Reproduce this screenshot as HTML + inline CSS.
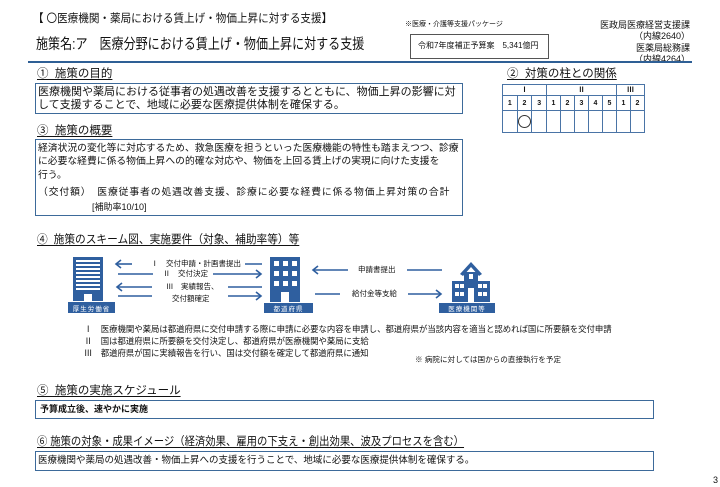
<!DOCTYPE html>
<html><head><meta charset="utf-8"><style>
body{margin:0;background:#fff;width:720px;height:487px;position:relative;overflow:hidden;font-family:"Liberation Sans","Noto Sans CJK JP",sans-serif;color:#111}
.a{position:absolute;white-space:nowrap;line-height:1;transform-origin:0 0}
.box{position:absolute;border:1px solid #3d6a9a;box-sizing:border-box}
.h{font-size:11.5px;text-decoration:underline;text-underline-offset:2px}
table{position:absolute;border-collapse:collapse;left:502px;top:84px}
td{border:1px solid #4a74a6;font-size:7px;text-align:center;padding:0;font-weight:bold}
</style></head><body>
<div class="a" style="left:33px;top:14px;font-size:11.5px;transform:scaleX(0.92)">【 〇医療機関・薬局における賃上げ・物価上昇に対する支援】</div>
<div class="a" style="left:36px;top:38px;font-size:14.5px;transform:scaleX(0.83)">施策名:ア　医療分野における賃上げ・物価上昇に対する支援</div>
<div class="a" style="left:405px;top:21px;font-size:7px">※医療・介護等支援パッケージ</div>
<div class="box" style="left:410px;top:34px;width:139px;height:25px;border-color:#555"></div>
<div class="a" style="left:418px;top:42px;font-size:8px">令和7年度補正予算案　5,341億円</div>
<div class="a" style="right:30px;left:auto;top:20px;font-size:9px;text-align:right;line-height:11.3px">医政局医療経営支援課<br>（内線2640）<br>医薬局総務課<br>（内線4264）</div>
<div style="position:absolute;left:28px;top:61px;width:664px;height:2px;background:#2e5f95"></div>

<div class="a h" style="left:37px;top:69px">①&nbsp; 施策の目的</div>
<div class="box" style="left:35px;top:83px;width:428px;height:31px"></div>
<div class="a" style="left:38px;top:86px;font-size:11px;line-height:13px">医療機関や薬局における従事者の処遇改善を支援するとともに、物価上昇の影響に対<br>して支援することで、地域に必要な医療提供体制を確保する。</div>

<div class="a h" style="left:507px;top:69px">②&nbsp; 対策の柱との関係</div>
<table>
<tr style="height:11px"><td colspan="3" style="width:43px">Ⅰ</td><td colspan="5">Ⅱ</td><td colspan="2">Ⅲ</td></tr>
<tr style="height:15px"><td style="width:13px">1</td><td style="width:13px">2</td><td style="width:13px">3</td><td style="width:13px">1</td><td style="width:13px">2</td><td style="width:13px">3</td><td style="width:13px">4</td><td style="width:13px">5</td><td style="width:13px">1</td><td style="width:13px">2</td></tr>
<tr style="height:22px"><td></td><td><div style="width:11px;height:11px;border:1px solid #333;border-radius:50%;margin:auto"></div></td><td></td><td></td><td></td><td></td><td></td><td></td><td></td><td></td></tr>
</table>

<div class="a h" style="left:37px;top:126px">③&nbsp; 施策の概要</div>
<div class="box" style="left:35px;top:139px;width:428px;height:77px"></div>
<div class="a" style="left:38px;top:142px;font-size:9.8px;line-height:13.3px">経済状況の変化等に対応するため、救急医療を担うといった医療機能の特性も踏まえつつ、診療<br>に必要な経費に係る物価上昇への的確な対応や、物価を上回る賃上げの実現に向けた支援を<br>行う。</div>
<div class="a" style="left:38px;top:188px;font-size:9.8px;letter-spacing:0.9px">（交付額）　医療従事者の処遇改善支援、診療に必要な経費に係る物価上昇対策の合計</div>
<div class="a" style="left:92px;top:203px;font-size:9px">[補助率10/10]</div>

<div class="a h" style="left:37px;top:235px;transform:scaleX(0.93)">④&nbsp; 施策のスキーム図、実施要件（対象、補助率等）等</div>

<svg style="position:absolute;left:0;top:0" width="720" height="487">
<g fill="#2f5f9f">
<rect x="73" y="257" width="30" height="44"/>
<rect x="68" y="302" width="47" height="11"/>
<rect x="270" y="257" width="30" height="45"/>
<rect x="264" y="303" width="49" height="10"/>
<rect x="439" y="303" width="56" height="10"/>
<polygon points="471,262 460,274 463,276 471,267 479,276 482,274"/>
<rect x="464" y="272" width="14" height="10"/>
<rect x="452" y="281" width="38" height="21"/>
</g>
<g fill="#fff">
<rect x="76" y="260" width="24" height="2"/><rect x="76" y="264" width="24" height="2"/><rect x="76" y="268" width="24" height="2"/><rect x="76" y="272" width="24" height="2"/><rect x="76" y="276" width="24" height="2"/><rect x="76" y="280" width="24" height="2"/><rect x="76" y="284" width="24" height="2"/><rect x="76" y="288" width="24" height="2"/>
<rect x="84" y="294" width="8" height="7"/>
<rect x="274" y="261" width="5" height="5"/><rect x="283" y="261" width="5" height="5"/><rect x="292" y="261" width="5" height="5"/>
<rect x="274" y="271" width="5" height="5"/><rect x="283" y="271" width="5" height="5"/><rect x="292" y="271" width="5" height="5"/>
<rect x="274" y="281" width="5" height="5"/><rect x="283" y="281" width="5" height="5"/><rect x="292" y="281" width="5" height="5"/>
<rect x="281" y="292" width="8" height="10"/>
<rect x="455" y="284" width="4" height="4"/><rect x="460" y="284" width="4" height="4"/><rect x="478" y="284" width="4" height="4"/><rect x="483" y="284" width="4" height="4"/>
<rect x="455" y="292" width="4" height="4"/><rect x="460" y="292" width="4" height="4"/><rect x="478" y="292" width="4" height="4"/><rect x="483" y="292" width="4" height="4"/>
<rect x="468" y="288" width="6" height="14"/><rect x="469" y="274" width="4" height="5"/>
</g>
<g stroke="#2f5f9f" stroke-width="1.6" fill="none">
<line x1="117" y1="264" x2="132" y2="264"/><polyline points="121,260 116,264 121,268"/>
<line x1="245" y1="264" x2="262" y2="264"/>
<line x1="118" y1="274" x2="153" y2="274"/>
<line x1="213" y1="274" x2="261" y2="274"/><polyline points="256,270 261,274 256,278"/>
<line x1="118" y1="287" x2="152" y2="287"/><polyline points="122,283 117,287 122,291"/>
<line x1="228" y1="287" x2="262" y2="287"/>
<line x1="118" y1="296" x2="152" y2="296"/>
<line x1="228" y1="296" x2="261" y2="296"/><polyline points="256,292 261,296 256,300"/>
<line x1="314" y1="270" x2="348" y2="270"/><polyline points="318,266 313,270 318,274"/>
<line x1="407" y1="270" x2="442" y2="270"/>
<line x1="315" y1="294" x2="340" y2="294"/>
<line x1="408" y1="294" x2="441" y2="294"/><polyline points="436,290 441,294 436,298"/>
</g>
<g font-size="6.5" fill="#fff" font-family="Liberation Sans,Noto Sans CJK JP,sans-serif" text-anchor="middle" letter-spacing="1">
<text x="91.5" y="311">厚生労働省</text>
<text x="288.5" y="311">都道府県</text>
<text x="467" y="311">医療機関等</text>
</g>
</svg>
<div class="a" style="left:151px;top:260px;font-size:7.5px">Ⅰ　交付申請・計画書提出</div>
<div class="a" style="left:163px;top:270px;font-size:7.5px">Ⅱ　交付決定</div>
<div class="a" style="left:166px;top:283px;font-size:7.5px">Ⅲ　実績報告、</div>
<div class="a" style="left:172px;top:295px;font-size:7.5px">交付額確定</div>
<div class="a" style="left:358px;top:266px;font-size:7.5px">申請書提出</div>
<div class="a" style="left:352px;top:290px;font-size:7.5px">給付金等支給</div>

<div class="a" style="left:84px;top:323px;font-size:8.4px;line-height:12.2px">Ⅰ　医療機関や薬局は都道府県に交付申請する際に申請に必要な内容を申請し、都道府県が当該内容を適当と認めれば国に所要額を交付申請<br>Ⅱ　国は都道府県に所要額を交付決定し、都道府県が医療機関や薬局に支給<br>Ⅲ　都道府県が国に実績報告を行い、国は交付額を確定して都道府県に通知</div>
<div class="a" style="left:415px;top:356px;font-size:7.6px">※ 病院に対しては国からの直接執行を予定</div>

<div class="a h" style="left:37px;top:386px">⑤&nbsp; 施策の実施スケジュール</div>
<div class="box" style="left:35px;top:400px;width:619px;height:19px"></div>
<div class="a" style="left:40px;top:405px;font-size:9px;font-weight:bold">予算成立後、速やかに実施</div>

<div class="a h" style="left:37px;top:437px;transform:scaleX(0.9)">⑥ 施策の対象・成果イメージ（経済効果、雇用の下支え・創出効果、波及プロセスを含む）</div>
<div class="box" style="left:35px;top:451px;width:619px;height:20px"></div>
<div class="a" style="left:38px;top:456px;font-size:9.5px">医療機関や薬局の処遇改善・物価上昇への支援を行うことで、地域に必要な医療提供体制を確保する。</div>
<div class="a" style="left:713px;top:476px;font-size:9px">3</div>
</body></html>
